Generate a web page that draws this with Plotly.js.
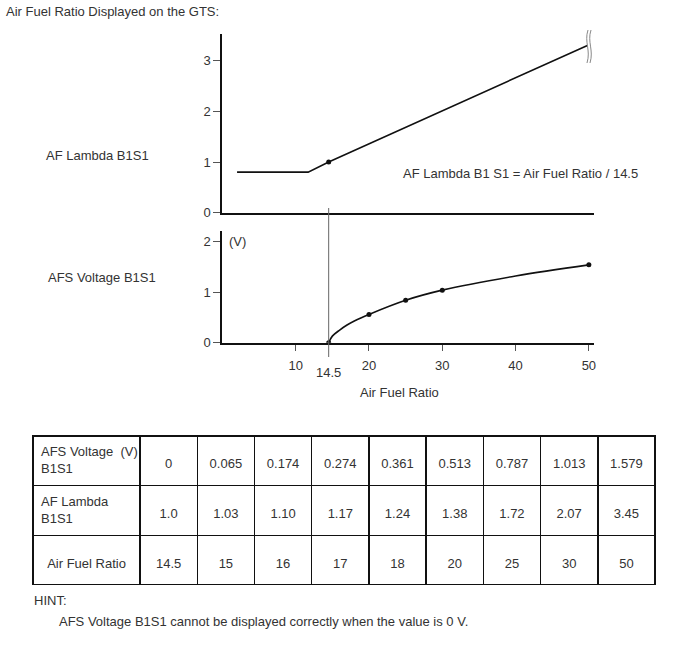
<!DOCTYPE html>
<html>
<head>
<meta charset="utf-8">
<script src="https://cdn.plot.ly/plotly-3.0.1.min.js"></script>
<style>
  html, body { margin: 0; padding: 0; background: #fff; }
  #grafico { width: 688px; height: 658px; }
</style>
</head>
<body>
<div id="grafico"></div>
<script>
// Dados
const lambdaX = [2, 11.7, 14.5, 49.8];
const lambdaY = [0.8, 0.8, 1.0, 3.3];
const lambdaDotX = [14.5];
const lambdaDotY = [1.0];

const voltX = [14.5, 15, 16, 17, 18, 20, 25, 30, 40, 50];
const voltY = [0, 0.13, 0.25, 0.35, 0.43, 0.56, 0.84, 1.04, 1.32, 1.54];
const voltDotX = [14.5, 20, 25, 30, 50];
const voltDotY = [0, 0.56, 0.84, 1.04, 1.54];

const stoich = 14.5;
const xTicks = [10, 20, 30, 40, 50];

// Tabela
const rowLabels = ['AFS Voltage\u00a0\u00a0(V)<br>B1S1', 'AF Lambda<br>B1S1', 'Air Fuel Ratio'];
const voltVals = ['0', '0.065', '0.174', '0.274', '0.361', '0.513', '0.787', '1.013', '1.579'];
const lambdaVals = ['1.0', '1.03', '1.10', '1.17', '1.24', '1.38', '1.72', '2.07', '3.45'];
const afrVals = ['14.5', '15', '16', '17', '18', '20', '25', '30', '50'];

const W = 688, H = 658;
const px = v => v / W;          // pixel -> paper x
const py = v => 1 - v / H;      // pixel -> paper y

const fonte = 'Liberation Sans, Arial, sans-serif';
const cor = '#333';

// colunas da tabela (primeira linha vazia só para centrar o texto na célula)
const cel = v => '\u00a0<br><span style="font-size:13px">' + v + '</span>';
const tableCols = [[rowLabels[0], rowLabels[1], cel(rowLabels[2])]];
const tableSizes = [[13, 13, 11]];
for (let i = 0; i < afrVals.length; i++) {
    tableCols.push([cel(voltVals[i]), cel(lambdaVals[i]), cel(afrVals[i])]);
    tableSizes.push(11);
}

const data = [
    {
        x: lambdaX, y: lambdaY, xaxis: 'x', yaxis: 'y',
        type: 'scatter', mode: 'lines',
        line: { color: '#111', width: 1.6 }
    },
    {
        x: lambdaDotX, y: lambdaDotY, xaxis: 'x', yaxis: 'y',
        type: 'scatter', mode: 'markers',
        marker: { color: '#111', size: 5 }
    },
    {
        x: voltX, y: voltY, xaxis: 'x2', yaxis: 'y2',
        type: 'scatter', mode: 'lines',
        line: { color: '#111', width: 1.6, shape: 'spline', smoothing: 1 }
    },
    {
        x: voltDotX, y: voltDotY, xaxis: 'x2', yaxis: 'y2',
        type: 'scatter', mode: 'markers',
        marker: { color: '#111', size: 5 }
    },
    {
        type: 'table',
        domain: { x: [px(33), px(655)], y: [py(586), py(420)] },
        columnwidth: [107].concat(afrVals.map(() => 57.2)),
        header: { values: [], height: 0, line: { width: 0 }, fill: { color: 'rgba(0,0,0,0)' } },
        cells: {
            values: tableCols,
            height: 49.7,
            align: [['left', 'left', 'center'], 'center'],
            line: { color: '#111', width: 1.5 },
            fill: { color: '#fff' },
            font: { family: fonte, size: tableSizes, color: cor }
        }
    }
];

const eixoX = {
    domain: [px(222.4), px(594)],
    range: [0, 50.7],
    showgrid: false, zeroline: false,
    showline: true, linecolor: '#111', linewidth: 2,
    fixedrange: true
};

const layout = {
    width: W, height: H,
    margin: { l: 0, r: 0, t: 0, b: 0 },
    paper_bgcolor: '#fff', plot_bgcolor: '#fff',
    showlegend: false,
    font: { family: fonte, size: 13, color: cor },
    xaxis: Object.assign({}, eixoX, { anchor: 'y', ticks: '', showticklabels: false }),
    yaxis: {
        domain: [py(212.7), py(34.3)],
        range: [0, 3.52],
        tickvals: [0, 1, 2, 3],
        ticks: 'outside', ticklen: 7, tickcolor: '#555',
        showline: true, linecolor: '#111', linewidth: 2,
        showgrid: false, zeroline: false, anchor: 'x'
    },
    xaxis2: Object.assign({}, eixoX, {
        anchor: 'y2',
        tickvals: xTicks,
        ticks: 'outside', ticklen: 6, tickcolor: '#555',
        ticklabelstandoff: 4
    }),
    yaxis2: {
        domain: [py(342.7), py(231)],
        range: [0, 2.21],
        tickvals: [0, 1, 2],
        ticks: 'outside', ticklen: 7, tickcolor: '#555',
        showline: true, linecolor: '#111', linewidth: 2,
        showgrid: false, zeroline: false, anchor: 'x2'
    },
    shapes: [
        // linha vertical em 14.5
        {
            type: 'line', xref: 'x2', yref: 'paper',
            x0: stoich, x1: stoich, y0: py(357), y1: py(208),
            line: { color: '#666', width: 1 }
        },
        // símbolo de quebra
        {
            type: 'path', xref: 'paper', yref: 'paper',
            path: 'M ' + px(588) + ' ' + py(30) + ' C ' + px(584) + ' ' + py(42) + ' ' + px(591) + ' ' + py(50) + ' ' + px(587) + ' ' + py(63),
            line: { color: '#888', width: 1 }
        },
        {
            type: 'path', xref: 'paper', yref: 'paper',
            path: 'M ' + px(591) + ' ' + py(30) + ' C ' + px(587) + ' ' + py(42) + ' ' + px(594) + ' ' + py(50) + ' ' + px(590) + ' ' + py(63),
            line: { color: '#888', width: 1 }
        }
    ],
    annotations: [
        { text: 'Air Fuel Ratio Displayed on the GTS:', x: px(4), y: py(11), xanchor: 'left' },
        { text: 'AF Lambda B1S1', x: px(44), y: py(155), xanchor: 'left' },
        { text: 'AFS Voltage B1S1', x: px(46), y: py(277), xanchor: 'left' },
        { text: 'AF Lambda B1 S1 = Air Fuel Ratio / 14.5', x: px(401), y: py(174), xanchor: 'left' },
        { text: '(V)', x: px(227), y: py(241), xanchor: 'left' },
        { text: 'Air Fuel Ratio', x: px(399), y: py(392), xanchor: 'center' },
        { text: String(stoich), xref: 'x2', x: stoich, yref: 'paper', y: py(372), xanchor: 'center' },
        { text: 'HINT:', x: px(32), y: py(600), xanchor: 'left' },
        { text: 'AFS Voltage B1S1 cannot be displayed correctly when the value is 0 V.', x: px(57), y: py(621), xanchor: 'left' }
    ].map(a => Object.assign({ xref: 'paper', yref: 'paper', yanchor: 'middle', showarrow: false, font: { family: fonte, size: 13, color: cor } }, a))
};

Plotly.newPlot('grafico', data, layout, { displayModeBar: false, staticPlot: true });
</script>
</body>
</html>
